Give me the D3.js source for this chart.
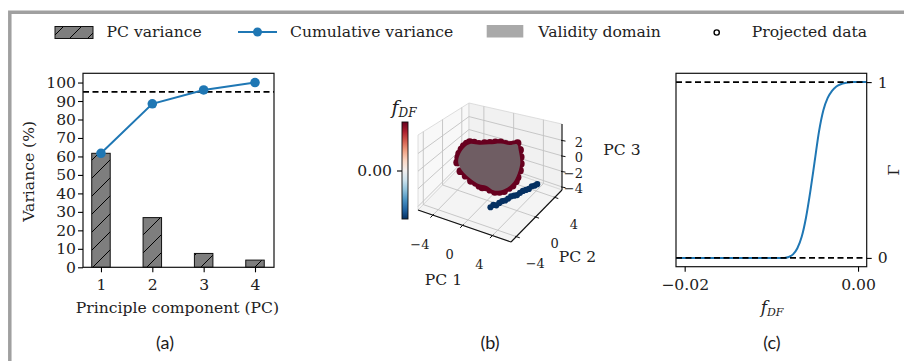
<!DOCTYPE html>
<html><head><meta charset="utf-8">
<script src="https://cdn.jsdelivr.net/npm/d3@7"></script>
<style>body{margin:0;background:#fff}svg{display:block}</style>
</head><body>
<svg id="chart" width="904" height="361"></svg>
<script>
// ================= DATA =================
// Panel (a)
const pcComponents = [1, 2, 3, 4];
const pcVariance = [61.7, 26.9, 7.5, 3.9];
const cumulativeVariance = [61.7, 88.5, 96.0, 100.0];
const varianceThreshold = 95;
const varianceTicks = [0, 10, 20, 30, 40, 50, 60, 70, 80, 90, 100];
const legendLabels = ["PC variance", "Cumulative variance", "Validity domain", "Projected data"];

// Panel (b)
const pc1Range = [-6, 6.5], pc2Range = [-5.1, 5.5], pc3Range = [-4.4, 4.1];
const pc1Ticks = [-4, 0, 4], pc2Ticks = [-4, 0, 4], pc3Ticks = [-4, -2, 0, 2];
const colorbarRange = [-0.02, 0.02];
const colorbarTicks = [0];
// validity domain outline [PC1, PC2, PC3]
const validityDomain = [
  [-2.3,0,1.85],[-1.05,0,2.05],[0.3,0,2.4],[1.85,0,2.85],[3.0,0,2.9],[4.0,0,3.2],[4.25,0,2.5],
  [4.45,0,1.1],[3.95,0,-0.5],[3.3,0,-1.55],[2.3,0,-2.4],[0.95,0,-2.95],[-0.15,0,-2.7],[-1.05,0,-2.78],
  [-2.1,0,-2.5],[-3.4,0,-1.7],[-3.9,0,-0.85],[-3.65,0,0.25],[-2.95,0,1.35]
];
// projected data inside the domain [PC1, PC2, PC3, fDF]
const projectedInside = [
  [-2.41,0.1,2.02,0.02],[-1.75,0,2.15,0.02],[-1.05,-0.1,2.19,0.02],[-0.35,0,2.4,0.02],[0.3,0.1,2.54,0.02],
  [1.1,0,2.8,0.02],[1.88,-0.1,3.01,0.02],[2.45,0,2.92,0.02],[3.0,0.1,2.87,0.02],[3.55,0,3.1,0.02],
  [4.08,0,3.35,0.02],[4.35,0.1,2.58,0.02],[4.5,0,1.85,0.02],[4.58,-0.1,1.14,0.02],[4.4,0,0.3,0.02],
  [4.08,0,-0.55,0.02],[3.78,0.1,-1.15,0.02],[3.41,0,-1.68,0.02],[2.9,0,-2.1,0.02],[2.33,-0.1,-2.56,0.02],
  [1.65,0,-2.9,0.02],[0.97,0.1,-3.15,0.02],[0.4,0,-3.0,0.02],[-0.15,0,-2.88,0.02],[-0.6,-0.1,-2.95,0.02],
  [-1.05,0,-2.94,0.02],[-1.6,0.1,-2.8,0.02],[-2.18,0,-2.67,0.02],[-2.9,0,-2.25,0.02],[-3.53,-0.1,-1.81,0.02],
  [-4.03,0,-0.91,0.02],[-3.95,0.1,-0.3,0.02],[-3.76,0,0.27,0.02],[-3.45,0,0.9,0.02],[-3.08,-0.1,1.45,0.02],
  [-2.75,0,1.8,0.02]
];
// projected data outside the domain [PC1, PC2, PC3, fDF]
const projectedOutside = [
  [2.28,-2.84,-3.0,-0.02],[2.42,-2.45,-2.9,-0.02],[2.57,-2.06,-3.1,-0.02],[2.71,-1.67,-3.0,-0.02],
  [2.86,-1.28,-2.95,-0.02],[3.0,-0.89,-3.05,-0.02],[3.15,-0.5,-3.0,-0.02],[3.29,-0.11,-2.9,-0.02],
  [3.44,0.28,-3.0,-0.02],[3.58,0.67,-3.1,-0.02],[3.73,1.06,-3.0,-0.02],[3.87,1.45,-2.95,-0.02],
  [4.02,1.84,-3.0,-0.02],[4.16,2.23,-3.05,-0.02],[4.31,2.62,-2.9,-0.02],[4.45,3.01,-3.0,-0.02],[4.54,3.38,-3.0,-0.02]
];

// Panel (c)
const fdfValues   = [-0.021,-0.0085,-0.008,-0.0075,-0.007,-0.0065,-0.006,-0.0055,-0.005,-0.0045,-0.004,-0.0035,-0.003,-0.0025,-0.002,-0.0015,-0.001,-0.0005,0,0.001];
const gammaValues = [0,0,0.005,0.02,0.055,0.12,0.23,0.38,0.55,0.72,0.84,0.91,0.95,0.975,0.988,0.995,0.998,1.0,1.0,1.0];
const gammaBounds = [0, 1];
const fdfTicks = [-0.02, 0];
const gammaTicks = [0, 1];
const panelLabels = ["(a)", "(b)", "(c)"];

// ================= DRAWING =================
const SERIF = "DejaVu Serif";
const FS = 15.6;
const FS3 = 13;
const svg = d3.select("#chart");
svg.append("rect").attr("width", 904).attr("height", 361).attr("fill", "#fff");
const defs = svg.append("defs");
const pat = defs.append("pattern").attr("id", "hatch").attr("patternUnits", "userSpaceOnUse")
  .attr("width", 18).attr("height", 18);
pat.append("rect").attr("width", 18).attr("height", 18).attr("fill", "#7e7e7e");
pat.append("path").attr("d", "M-4.5,4.5 l9,-9 M0,18 l18,-18 M13.5,22.5 l9,-9")
  .attr("stroke", "#000").attr("stroke-width", 1);

// frame
svg.append("path").attr("d", "M9.8,361 V12.2 H904").attr("fill", "none")
  .attr("stroke", "#a0a0a0").attr("stroke-width", 3.5);

const minus = s => s.replace(/-/g, "\u2212");
function styleAxis(g) {
  g.attr("font-family", SERIF).attr("font-size", FS);
  g.selectAll(".domain").remove();
  g.selectAll(".tick line").attr("stroke", "#000").attr("stroke-width", 1.1);
  g.selectAll(".tick text").attr("fill", "#222");
}

// ---------- Legend ----------
const lg = svg.append("g").attr("font-family", SERIF).attr("font-size", FS).attr("fill", "#222");
lg.append("rect").attr("x", 55).attr("y", 26.5).attr("width", 38).attr("height", 12)
  .attr("fill", "url(#hatch)").attr("stroke", "#111").attr("stroke-width", 1);
lg.append("text").attr("x", 106.5).attr("y", 37).text(legendLabels[0]);
lg.append("line").attr("x1", 238).attr("x2", 277).attr("y1", 32).attr("y2", 32)
  .attr("stroke", "#1f77b4").attr("stroke-width", 2);
lg.append("circle").attr("cx", 257.5).attr("cy", 32).attr("r", 4.5).attr("fill", "#1f77b4");
lg.append("text").attr("x", 290).attr("y", 37).text(legendLabels[1]);
lg.append("rect").attr("x", 486.7).attr("y", 25).attr("width", 36.6).attr("height", 12.5).attr("fill", "#a9a9a9");
lg.append("text").attr("x", 538.3).attr("y", 37).text(legendLabels[2]);
lg.append("circle").attr("cx", 716.7).attr("cy", 32.5).attr("r", 2.6).attr("fill", "#fff")
  .attr("stroke", "#000").attr("stroke-width", 1.4);
lg.append("text").attr("x", 751.7).attr("y", 37).text(legendLabels[3]);

// ---------- Panel (a) ----------
const A = {l: 83, r: 274, t: 73.3, b: 267.3};
const xa = d3.scaleLinear().domain([0.65, 4.37]).range([A.l, A.r]);
const ya = d3.scaleLinear().domain([0, 105]).range([A.b, A.t]);
const ga = svg.append("g");
const bw = 0.18;
ga.selectAll("rect.bar").data(pcComponents).join("rect").attr("class", "bar")
  .attr("x", d => xa(d - bw)).attr("width", d => xa(d + bw) - xa(d - bw))
  .attr("y", (d, i) => ya(pcVariance[i])).attr("height", (d, i) => ya(0) - ya(pcVariance[i]))
  .attr("fill", "url(#hatch)").attr("stroke", "#111").attr("stroke-width", 1);
ga.append("line").attr("x1", A.l).attr("x2", A.r).attr("y1", ya(varianceThreshold)).attr("y2", ya(varianceThreshold))
  .attr("stroke", "#000").attr("stroke-width", 1.8).attr("stroke-dasharray", "6,3.5");
ga.append("path").datum(pcComponents)
  .attr("d", d3.line().x(d => xa(d)).y((d, i) => ya(cumulativeVariance[i])))
  .attr("fill", "none").attr("stroke", "#1f77b4").attr("stroke-width", 2);
ga.selectAll("circle.cum").data(pcComponents).join("circle").attr("class", "cum")
  .attr("cx", d => xa(d)).attr("cy", (d, i) => ya(cumulativeVariance[i])).attr("r", 4.8).attr("fill", "#1f77b4");
ga.append("rect").attr("x", A.l).attr("y", A.t).attr("width", A.r - A.l).attr("height", A.b - A.t)
  .attr("fill", "none").attr("stroke", "#111").attr("stroke-width", 1.2);
ga.append("g").attr("transform", `translate(${A.l},0)`)
  .call(d3.axisLeft(ya).tickValues(varianceTicks).tickSize(5).tickPadding(2)).call(styleAxis);
ga.append("g").attr("transform", `translate(0,${A.b})`)
  .call(d3.axisBottom(xa).tickValues(pcComponents).tickSize(5).tickPadding(7).tickFormat(d3.format("d"))).call(styleAxis);
ga.append("text").attr("x", (A.l + A.r) / 2 - 1).attr("y", 313).attr("text-anchor", "middle")
  .attr("font-family", SERIF).attr("font-size", FS).attr("fill", "#222").text("Principle component (PC)");
ga.append("text").attr("transform", `translate(34,${(A.t + A.b) / 2 + 1}) rotate(-90)`).attr("text-anchor", "middle")
  .attr("font-family", SERIF).attr("font-size", FS).attr("fill", "#222").text("Variance (%)");

// ---------- Panel (b) ----------
const P = {L: [418, 210], F: [511, 242], R: [562, 190], B: [469, 158], hL: 75, hF: 86, hR: 66, hB: 55};
function projN(x, y, z) {
  const w00 = (1 - x) * (1 - y), w10 = x * (1 - y), w11 = x * y, w01 = (1 - x) * y;
  const fx = P.L[0] * w00 + P.F[0] * w10 + P.R[0] * w11 + P.B[0] * w01;
  const fy = P.L[1] * w00 + P.F[1] * w10 + P.R[1] * w11 + P.B[1] * w01;
  const h = P.hL * w00 + P.hF * w10 + P.hR * w11 + P.hB * w01;
  return [fx, fy - z * h];
}
const s1 = d3.scaleLinear().domain(pc1Range).range([0, 1]);
const s2 = d3.scaleLinear().domain(pc2Range).range([0, 1]);
const s3 = d3.scaleLinear().domain(pc3Range).range([0, 1]);
const proj = d => projN(s1(d[0]), s2(d[1]), s3(d[2]));
const gb = svg.append("g");
const poly = pts => "M" + pts.map(p => p.join(",")).join("L") + "Z";
// panes
gb.append("path").attr("d", poly([projN(0,0,0), projN(0,1,0), projN(0,1,1), projN(0,0,1)]))
  .attr("fill", "#f8f8f8").attr("stroke", "#d6d6d6").attr("stroke-width", 0.8);
gb.append("path").attr("d", poly([projN(0,1,0), projN(1,1,0), projN(1,1,1), projN(0,1,1)]))
  .attr("fill", "#f1f1f1").attr("stroke", "#d6d6d6").attr("stroke-width", 0.8);
gb.append("path").attr("d", poly([projN(0,0,0), projN(1,0,0), projN(1,1,0), projN(0,1,0)]))
  .attr("fill", "#f4f4f4").attr("stroke", "#d6d6d6").attr("stroke-width", 0.8);
// grid
const gridSegs = [];
pc1Ticks.forEach(t => { gridSegs.push([projN(s1(t),0,0), projN(s1(t),1,0)]); gridSegs.push([projN(s1(t),1,0), projN(s1(t),1,1)]); });
pc2Ticks.forEach(t => { gridSegs.push([projN(0,s2(t),0), projN(1,s2(t),0)]); gridSegs.push([projN(0,s2(t),0), projN(0,s2(t),1)]); });
pc3Ticks.forEach(t => { gridSegs.push([projN(0,0,s3(t)), projN(0,1,s3(t))]); gridSegs.push([projN(0,1,s3(t)), projN(1,1,s3(t))]); });
gb.selectAll("line.grid").data(gridSegs).join("line").attr("class", "grid")
  .attr("x1", d => d[0][0]).attr("y1", d => d[0][1]).attr("x2", d => d[1][0]).attr("y2", d => d[1][1])
  .attr("stroke", "#c2c2c2").attr("stroke-width", 0.9);
// axis lines
const axisSegs = [[projN(0,0,0), projN(1,0,0)], [projN(1,0,0), projN(1,1,0)], [projN(1,1,0), projN(1,1,1)]];
gb.selectAll("line.ax3").data(axisSegs).join("line").attr("class", "ax3")
  .attr("x1", d => d[0][0]).attr("y1", d => d[0][1]).attr("x2", d => d[1][0]).attr("y2", d => d[1][1])
  .attr("stroke", "#111").attr("stroke-width", 1.1);
const tickFmt = d => minus(String(d));
const t3 = gb.append("g").attr("font-family", SERIF).attr("font-size", FS3).attr("fill", "#222");
pc1Ticks.forEach(t => {
  const p = projN(s1(t), 0, 0);
  t3.append("line").attr("x1", p[0] + 1).attr("y1", p[1] - 1).attr("x2", p[0] - 2.5).attr("y2", p[1] + 2.5).attr("stroke", "#111");
  t3.append("text").attr("x", p[0] - 13).attr("y", p[1] + 29).attr("text-anchor", "middle").attr("dominant-baseline", "central").text(tickFmt(t));
});
pc2Ticks.forEach(t => {
  const p = projN(1, s2(t), 0);
  t3.append("line").attr("x1", p[0] - 1).attr("y1", p[1] - 0.3).attr("x2", p[0] + 3.5).attr("y2", p[1] + 1.2).attr("stroke", "#111");
  t3.append("text").attr("x", p[0] + 19).attr("y", p[1] + 27).attr("text-anchor", "middle").attr("dominant-baseline", "central").text(tickFmt(t));
});
pc3Ticks.forEach(t => {
  const p = projN(1, 1, s3(t));
  t3.append("line").attr("x1", p[0] - 1).attr("y1", p[1]).attr("x2", p[0] + 3.5).attr("y2", p[1] + 0.8).attr("stroke", "#111");
  t3.append("text").attr("x", p[0] + 21).attr("y", p[1] + 2).attr("text-anchor", "end").attr("dominant-baseline", "central").text(tickFmt(t));
});
const m1 = projN(0.5, 0, 0), m2 = projN(1, 0.5, 0), m3 = projN(1, 1, 0.5);
const t3l = gb.append("g").attr("font-family", SERIF).attr("font-size", FS).attr("fill", "#222");
t3l.append("text").attr("x", m1[0] - 21).attr("y", m1[1] + 54).attr("text-anchor", "middle").attr("dominant-baseline", "central").text("PC 1");
t3l.append("text").attr("x", m2[0] + 41).attr("y", m2[1] + 41).attr("text-anchor", "middle").attr("dominant-baseline", "central").text("PC 2");
t3l.append("text").attr("x", m3[0] + 60).attr("y", m3[1] - 7).attr("text-anchor", "middle").attr("dominant-baseline", "central").text("PC 3");

// points
const cmap = d3.scaleSequential(d3.interpolateRdBu).domain([colorbarRange[1], colorbarRange[0]]);
gb.selectAll("circle.out").data(projectedOutside).join("circle").attr("class", "out")
  .attr("cx", d => proj(d)[0]).attr("cy", d => proj(d)[1]).attr("r", 3.1).attr("fill", d => cmap(d[3]));
gb.selectAll("circle.in").data(projectedInside).join("circle").attr("class", "in")
  .attr("cx", d => proj(d)[0]).attr("cy", d => proj(d)[1]).attr("r", 3.9).attr("fill", d => cmap(d[3]));
gb.append("path").datum(validityDomain)
  .attr("d", d3.line().x(d => proj(d)[0]).y(d => proj(d)[1]).curve(d3.curveCatmullRomClosed))
  .attr("fill", "#6f5d63");

// colorbar
const grad = defs.append("linearGradient").attr("id", "cbar").attr("x1", 0).attr("x2", 0).attr("y1", 0).attr("y2", 1);
d3.range(0, 1.0001, 0.1).forEach(t => grad.append("stop").attr("offset", t).attr("stop-color", d3.interpolateRdBu(t)));
const cb = {x: 402, w: 6, t: 122, b: 219};
const cbs = d3.scaleLinear().domain(colorbarRange).range([cb.b, cb.t]);
gb.append("rect").attr("x", cb.x).attr("y", cb.t).attr("width", cb.w).attr("height", cb.b - cb.t)
  .attr("fill", "url(#cbar)").attr("stroke", "#111").attr("stroke-width", 0.9);
gb.append("g").attr("transform", `translate(${cb.x},0)`)
  .call(d3.axisLeft(cbs).tickValues(colorbarTicks).tickSize(5).tickPadding(5).tickFormat(d3.format(".2f"))).call(styleAxis);
const ft = gb.append("text").attr("x", 404).attr("y", 114).attr("text-anchor", "middle")
  .attr("font-family", SERIF).attr("font-style", "italic").attr("fill", "#222");
ft.append("tspan").attr("font-size", 19).text("f");
ft.append("tspan").attr("font-size", 12).attr("dy", 3).text("DF");

// ---------- Panel (c) ----------
const C = {l: 676, r: 866.7, t: 73.3, b: 266.7};
const xc = d3.scaleLinear().domain([-0.021, 0.001]).range([C.l, C.r]);
const yc = d3.scaleLinear().domain([-0.05, 1.05]).range([C.b, C.t]);
const gc = svg.append("g");
gc.append("path").datum(fdfValues)
  .attr("d", d3.line().x(d => xc(d)).y((d, i) => yc(gammaValues[i])).curve(d3.curveMonotoneX))
  .attr("fill", "none").attr("stroke", "#1f77b4").attr("stroke-width", 2);
gc.selectAll("line.bound").data(gammaBounds).join("line").attr("class", "bound")
  .attr("x1", C.l).attr("x2", C.r).attr("y1", d => yc(d)).attr("y2", d => yc(d))
  .attr("stroke", "#000").attr("stroke-width", 1.8).attr("stroke-dasharray", "6,3.5");
gc.append("rect").attr("x", C.l).attr("y", C.t).attr("width", C.r - C.l).attr("height", C.b - C.t)
  .attr("fill", "none").attr("stroke", "#111").attr("stroke-width", 1.2);
gc.append("g").attr("transform", `translate(0,${C.b})`)
  .call(d3.axisBottom(xc).tickValues(fdfTicks).tickSize(5).tickPadding(7).tickFormat(d => minus(d3.format(".2f")(d)))).call(styleAxis);
gc.append("g").attr("transform", `translate(${C.r},0)`)
  .call(d3.axisRight(yc).tickValues(gammaTicks).tickSize(5).tickPadding(6).tickFormat(d3.format("d"))).call(styleAxis);
const xl = gc.append("text").attr("x", 772).attr("y", 313).attr("text-anchor", "middle")
  .attr("font-family", SERIF).attr("font-style", "italic").attr("fill", "#222");
xl.append("tspan").attr("font-size", 17).text("f");
xl.append("tspan").attr("font-size", 11).attr("dy", 3).text("DF");
gc.append("text").attr("transform", `translate(899,${(C.t + C.b) / 2}) rotate(-90)`).attr("text-anchor", "middle")
  .attr("font-family", SERIF).attr("font-size", FS).attr("fill", "#222").text("\u0393");

// panel labels
const plx = [165, 490, 772];
svg.selectAll("text.plab").data(panelLabels).join("text").attr("class", "plab")
  .attr("x", (d, i) => plx[i]).attr("y", 349).attr("text-anchor", "middle")
  .attr("font-family", "Lato").attr("font-size", 18).attr("fill", "#1b1b1b").text(d => d);
</script>
</body></html>
